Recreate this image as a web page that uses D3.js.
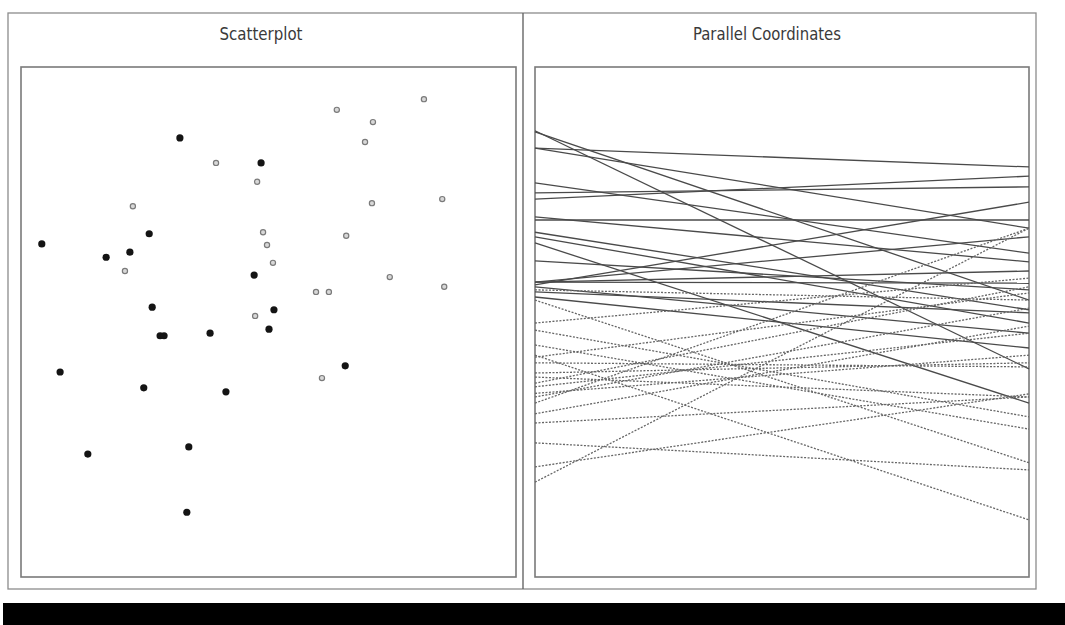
<!DOCTYPE html>
<html>
<head>
<meta charset="utf-8">
<script src="https://cdn.jsdelivr.net/npm/d3@7"></script>
<style>
  html, body { margin: 0; padding: 0; background: #fff; }
  svg { display: block; }
</style>
</head>
<body>
<svg id="chart" width="1065" height="625"></svg>
<script>
// Panel titles
const panelTitles = ["Scatterplot", "Parallel Coordinates"];

// Scatterplot: selected (filled) points
const filledX = [32.1, 48.5, 25.9, 4.2, 22.0, 17.2, 47.1, 26.5, 51.1, 28.1, 28.9, 38.2, 50.1, 7.9, 24.8, 41.4, 65.5, 13.5, 33.9, 33.5];
const filledY = [86.1, 81.2, 67.3, 65.3, 63.7, 62.7, 59.2, 52.9, 52.4, 47.3, 47.3, 47.8, 48.6, 40.2, 37.1, 36.3, 41.4, 24.1, 25.5, 12.7];

// Scatterplot: unselected (open) points
const openX = [63.8, 81.4, 71.1, 69.5, 39.4, 47.7, 22.6, 70.9, 85.1, 48.9, 49.7, 65.7, 50.9, 21.0, 74.5, 85.5, 59.6, 62.2, 47.3, 60.8];
const openY = [91.6, 93.7, 89.2, 85.3, 81.2, 77.5, 72.7, 73.3, 74.1, 67.6, 65.1, 66.9, 61.6, 60.0, 58.8, 56.9, 55.9, 55.9, 51.2, 39.0];

// Parallel coordinates: value on the first axis, value on the second axis, line style
const pcFirst  = [87.5, 84.1, 84.1, 87.3, 77.3, 75.3, 74.1, 70.6, 70.0, 67.6, 66.7, 65.5, 57.8, 57.8, 57.3, 55.9, 54.9, 57.8, 56.9, 62.0,
                  56.3, 49.8, 48.4, 43.1, 42.0, 39.2, 38.0, 37.3, 35.3, 34.1, 30.2, 26.3, 21.6, 18.6, 43.5, 54.3, 40.0, 32.0, 45.5, 36.0];
const pcSecond = [40.8, 80.4, 68.4, 54.3, 63.5, 76.5, 78.6, 61.8, 70.0, 52.4, 49.8, 34.1, 57.6, 66.7, 73.5, 51.8, 44.9, 60.0, 47.8, 56.3,
                  54.3, 58.6, 31.4, 55.7, 41.2, 35.3, 56.9, 47.8, 52.7, 68.4, 35.3, 21.0, 35.9, 68.4, 11.2, 22.4, 42.0, 49.2, 29.0, 43.5];
const pcStyle  = ["solid","solid","solid","solid","solid","solid","solid","solid","solid","solid","solid","solid","solid","solid","solid","solid","solid","solid","solid","solid",
                  "dotted","dotted","dotted","dotted","dotted","dotted","dotted","dotted","dotted","dotted","dotted","dotted","dotted","dotted","dotted","dotted","dotted","dotted","dotted","dotted"];

const svg = d3.select("#chart");

// Layout
const outer = { left: 8, top: 13, right: 1036, bottom: 589, split: 523 };
const plotTop = 67, plotBottom = 577;
const scatterBox = { left: 21, right: 516 };
const pcBox = { left: 535, right: 1029 };

// Outer frame and divider
svg.append("rect")
  .attr("x", outer.left).attr("y", outer.top)
  .attr("width", outer.right - outer.left).attr("height", outer.bottom - outer.top)
  .attr("fill", "none").attr("stroke", "#8c8c8c").attr("stroke-width", 1.3);
svg.append("line")
  .attr("x1", outer.split).attr("x2", outer.split)
  .attr("y1", outer.top).attr("y2", outer.bottom)
  .attr("stroke", "#666").attr("stroke-width", 1.4);

// Status bar
svg.append("rect")
  .attr("x", 3).attr("y", 603).attr("width", 1062).attr("height", 22)
  .attr("fill", "#000");

// Titles
const titleX = [261, 767];
panelTitles.forEach((t, i) => {
  svg.append("text")
    .attr("x", titleX[i]).attr("y", 40)
    .attr("text-anchor", "middle")
    .attr("font-family", "'Liberation Sans Narrow', 'DejaVu Sans Condensed', 'Liberation Sans', sans-serif")
    .attr("font-size", 18)
    .attr("textLength", i === 0 ? 83 : 148)
    .attr("lengthAdjust", "spacingAndGlyphs")
    .attr("fill", "#3a3a3a")
    .text(t);
});

// Plot boxes
[scatterBox, pcBox].forEach(b => {
  svg.append("rect")
    .attr("x", b.left).attr("y", plotTop)
    .attr("width", b.right - b.left).attr("height", plotBottom - plotTop)
    .attr("fill", "#fff").attr("stroke", "#7a7a7a").attr("stroke-width", 1.6);
});

// Scatterplot
const sx = d3.scaleLinear().domain([0, 100]).range([scatterBox.left, scatterBox.right]);
const sy = d3.scaleLinear().domain([0, 100]).range([plotBottom, plotTop]);

const openPts = openX.map((x, i) => ({ x, y: openY[i] }));
const filledPts = filledX.map((x, i) => ({ x, y: filledY[i] }));

const scatter = svg.append("g");
scatter.selectAll("circle.open").data(openPts).join("circle")
  .attr("class", "open")
  .attr("cx", d => sx(d.x)).attr("cy", d => sy(d.y))
  .attr("r", 2.6)
  .attr("fill", "#d8d8d8").attr("stroke", "#7a7a7a").attr("stroke-width", 1.2);
scatter.selectAll("circle.filled").data(filledPts).join("circle")
  .attr("class", "filled")
  .attr("cx", d => sx(d.x)).attr("cy", d => sy(d.y))
  .attr("r", 3.6)
  .attr("fill", "#141414");

// Parallel coordinates
const axisX = d3.scalePoint().domain(["first", "second"]).range([pcBox.left, pcBox.right]);
const py = d3.scaleLinear().domain([0, 100]).range([plotBottom, plotTop]);

const pcData = pcFirst.map((a, i) => ({ a, b: pcSecond[i], style: pcStyle[i] }));
const line = d3.line().x(d => d[0]).y(d => d[1]);

svg.append("g").selectAll("path").data(pcData).join("path")
  .attr("d", d => line([[axisX("first"), py(d.a)], [axisX("second"), py(d.b)]]))
  .attr("fill", "none")
  .attr("stroke", d => d.style === "solid" ? "#4a4a4a" : "#666")
  .attr("stroke-width", 1.3)
  .attr("stroke-dasharray", d => d.style === "solid" ? null : "2,1.5");
</script>
</body>
</html>
